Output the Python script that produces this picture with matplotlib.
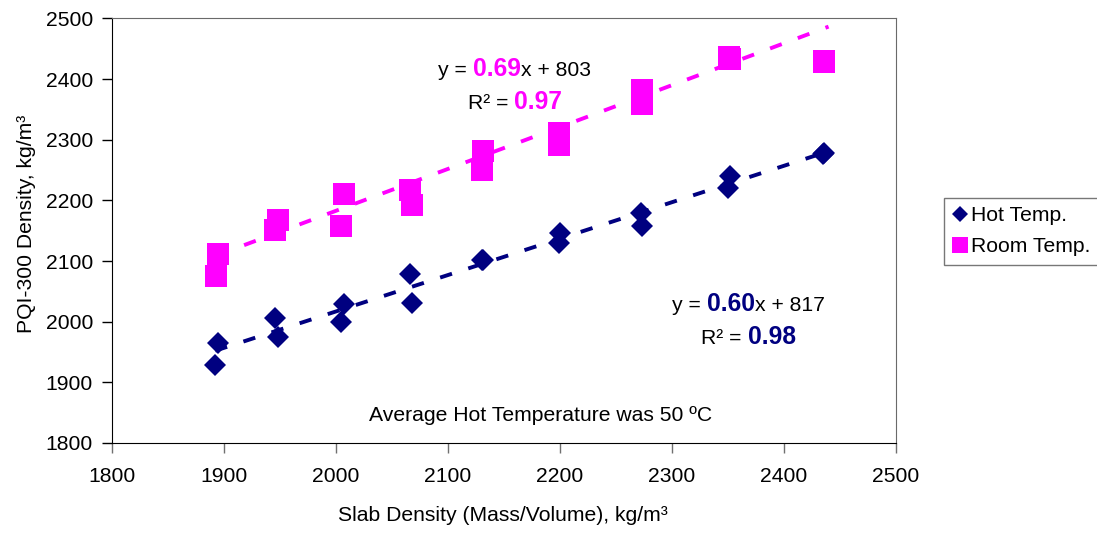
import numpy as np
import matplotlib
matplotlib.use("Agg")
import matplotlib.pyplot as plt
from matplotlib.offsetbox import TextArea, HPacker, AnnotationBbox

plt.rcParams['font.family'] = ['Liberation Sans', 'DejaVu Sans']

# ---- data ----
hot_x = [1892, 1894, 1945, 1948, 2004, 2007, 2066, 2068, 2130, 2131,
         2199, 2200, 2273, 2272, 2350, 2352, 2435, 2436]
hot_y = [1929, 1965, 2006, 1975, 2000, 2029, 2078, 2031, 2102, 2101,
         2129, 2146, 2157, 2179, 2221, 2240, 2276, 2278]
room_x = [1893, 1894, 1948, 1945, 2007, 2004, 2066, 2068, 2131, 2130,
          2199, 2199, 2273, 2273, 2352, 2351, 2436, 2436]
room_y = [2075, 2112, 2168, 2151, 2211, 2158, 2217, 2192, 2282, 2250,
          2311, 2291, 2382, 2359, 2434, 2436, 2429, 2430]

series_labels = ["Hot Temp.", "Room Temp."]
hot_slope, hot_icpt, hot_r2 = 0.60, 817, 0.98
room_slope, room_icpt, room_r2 = 0.69, 803, 0.97
note = "Average Hot Temperature was 50 \u00baC"
xlabel = "Slab Density (Mass/Volume), kg/m\u00b3"
ylabel = "PQI-300 Density, kg/m\u00b3"
ticks = [1800, 1900, 2000, 2100, 2200, 2300, 2400, 2500]

NAVY = "#000080"
MAG = "#FF00FF"
FS = 15.2

fig = plt.figure(figsize=(10.97, 5.33), dpi=100)
ax = fig.add_axes([0.1024, 0.1689, 0.7141, 0.7964])

ax.plot(hot_x, hot_y, linestyle='none', marker='D', markersize=11.4,
        color=NAVY, markeredgewidth=0, label=series_labels[0], zorder=3)
ax.plot(room_x, room_y, linestyle='none', marker='s', markersize=16,
        color=MAG, markeredgewidth=0, label=series_labels[1], zorder=3)

for xs, k, b, col in [(hot_x, hot_slope, hot_icpt, NAVY),
                      (room_x, room_slope, room_icpt, MAG)]:
    xx = np.array([min(xs), max(xs) + 4])
    ax.plot(xx, k * xx + b, color=col, linewidth=2.8, dashes=(3.2, 4.4), zorder=2)

ax.set_xlim(1800, 2500)
ax.set_ylim(1800, 2500)
ax.set_xticks(ticks)
ax.set_yticks(ticks)
ax.tick_params(axis='both', direction='out', length=7, width=1, labelsize=FS,
               colors='black')
ax.tick_params(axis='x', pad=10, color='#707070')
ax.tick_params(axis='y', pad=7)

for s in ['left', 'bottom']:
    ax.spines[s].set_color('black')
for s in ['top', 'right']:
    ax.spines[s].set_color('#6a6a6a')

ax.set_xlabel(xlabel, fontsize=FS, va='center')
ax.xaxis.set_label_coords(0.4987, -0.172)
ax.set_ylabel(ylabel, fontsize=FS, va='center')
ax.yaxis.set_label_coords(-0.11, 0.516)


def eq_box(parts, xy):
    areas = []
    for txt, col, bold in parts:
        areas.append(TextArea(txt, textprops=dict(color=col, fontsize=FS + (2.5 if bold else 0),
                                                  fontweight='bold' if bold else 'normal')))
    pack = HPacker(children=areas, align='baseline', pad=0, sep=0)
    ab = AnnotationBbox(pack, xy, xycoords='data', frameon=False,
                        box_alignment=(0.5, 0.5), pad=0)
    ax.add_artist(ab)


eq_box([("y = ", 'black', False), (f"{room_slope:.2f}", MAG, True),
        (f"x + {room_icpt}", 'black', False)], (2159.6, 2416.2))
eq_box([("R\u00b2 = ", 'black', False), (f"{room_r2:.2f}", MAG, True)], (2159.8, 2362.8))
eq_box([("y = ", 'black', False), (f"{hot_slope:.2f}", NAVY, True),
        (f"x + {hot_icpt}", 'black', False)], (2368.4, 2029.2))
eq_box([("R\u00b2 = ", 'black', False), (f"{hot_r2:.2f}", NAVY, True)], (2368.4, 1975.3))

ax.text(2183, 1846, note, fontsize=FS, ha='center', va='center')

leg = fig.legend(loc='upper left', bbox_to_anchor=(0.8605, 0.6285),
                 fontsize=FS, frameon=True, fancybox=False, shadow=False,
                 markerscale=0.7, handlelength=0.7, handletextpad=0.2,
                 borderpad=0.4, labelspacing=0.55, borderaxespad=0)
leg.get_frame().set_edgecolor('#555555')
leg.get_frame().set_linewidth(1.0)

fig.savefig("out.png", dpi=100)
